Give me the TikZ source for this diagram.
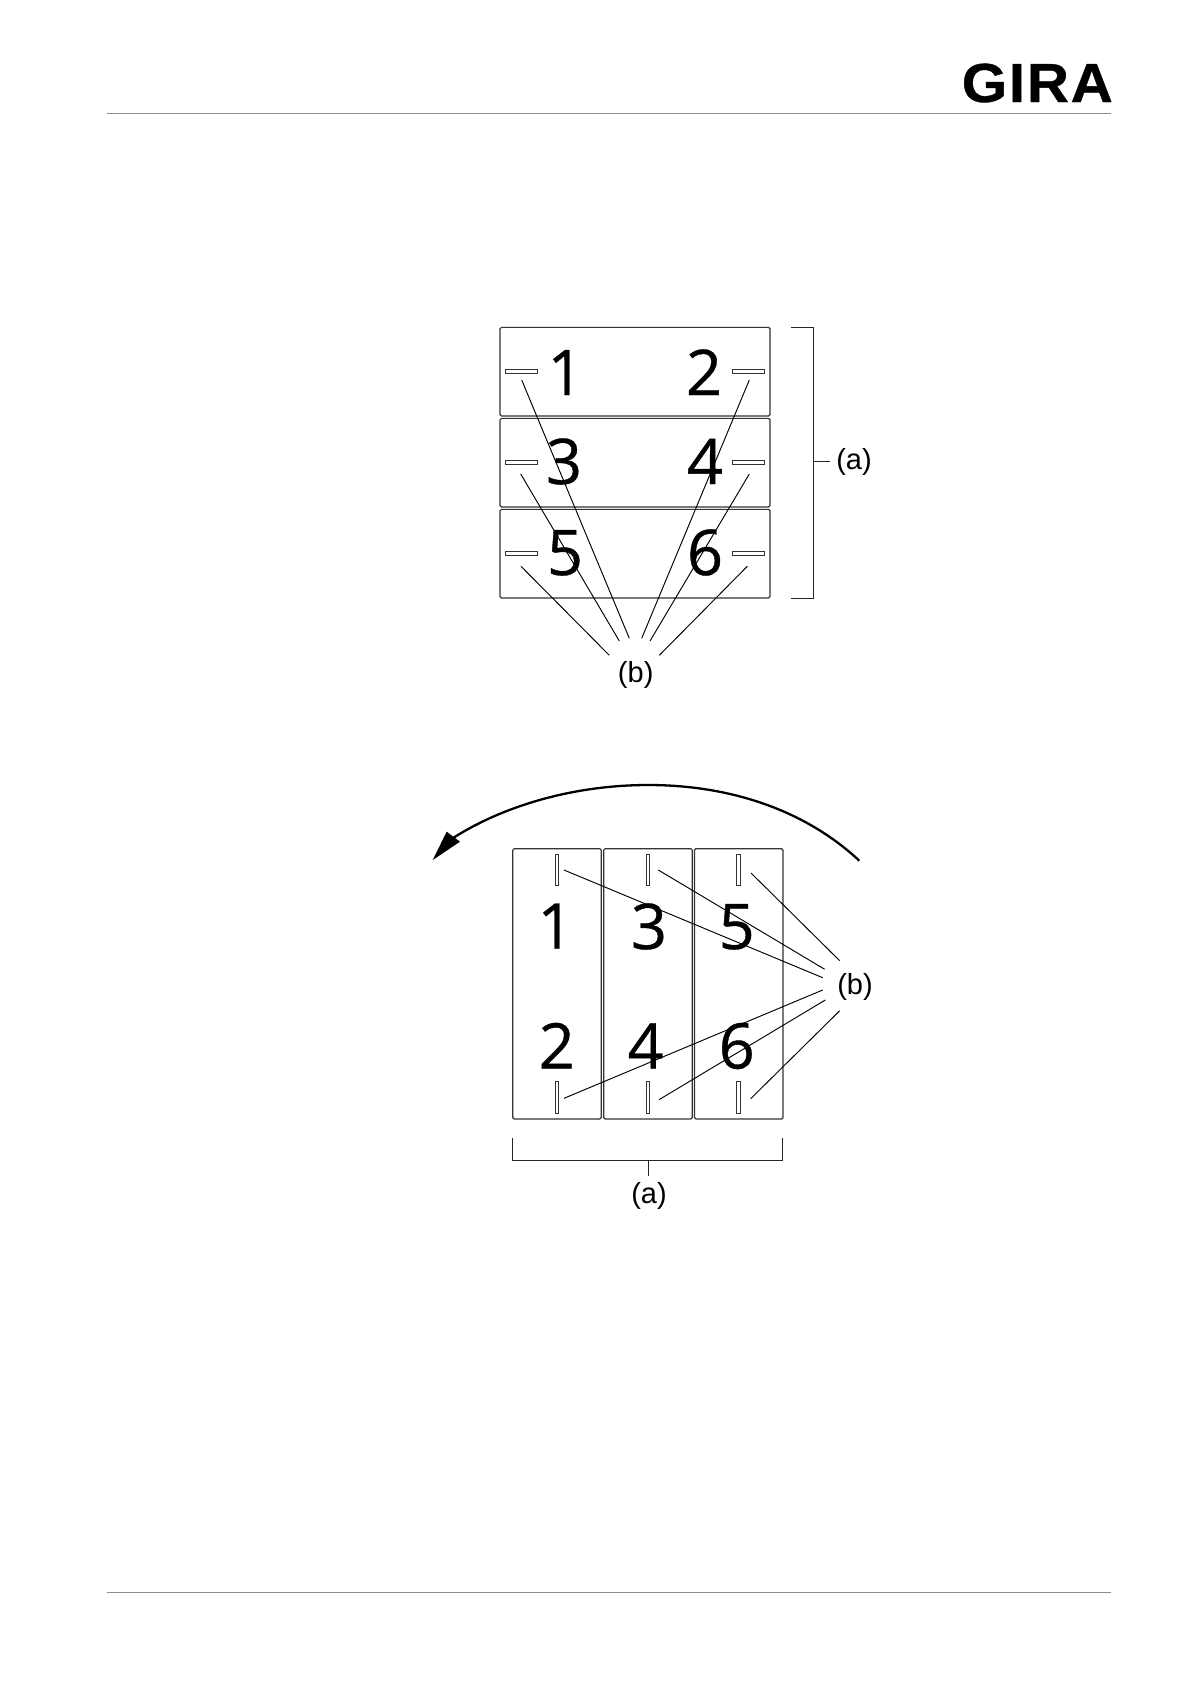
\documentclass[tikz,border=0pt]{standalone}
\usepackage{fontspec}
\setmainfont{Liberation Sans}
\newfontfamily\digitfont[FakeBold=0.6]{Open Sans}
\newfontfamily\logofont[LetterSpace=3,FakeBold=0.7]{Liberation Sans Bold}
\begin{document}
\begin{tikzpicture}[x=1pt,y=-1pt,
  panel/.style={draw=black!80,line width=1.2pt,rounded corners=1.5pt,inner sep=0pt,fill=white},
  hpanel/.style={panel,minimum width=270pt,minimum height=88.7pt},
  vpanel/.style={panel,minimum width=88.6pt,minimum height=270.3pt},
  hslot/.style={draw=black!80,line width=0.9pt,inner sep=0pt,minimum width=32pt,minimum height=3.8pt},
  vslot/.style={draw=black!80,line width=0.9pt,inner sep=0pt,minimum width=3.6pt,minimum height=31.4pt},
  digit/.style={anchor=base,inner sep=0pt,font=\digitfont\fontsize{63}{70}\selectfont},
  callout/.style={inner sep=0pt,font=\fontsize{29}{32}\selectfont},
  leader/.style={draw=black,line width=0.95pt},
  bracket/.style={draw=black!85,line width=1pt},
  rule/.style={draw=black!45,line width=0.9pt}]
\useasboundingbox (0,0) rectangle (1191,1684);
\fill[white] (0,0) rectangle (1191,1684);
% header and footer
\coordinate (hl) at (107.4,113.3); \coordinate (hr) at (1111,113.3);
\coordinate (fl) at (107.4,1592.8); \coordinate (fr) at (1111,1592.8);
\draw[rule] (hl) -- (hr);
\draw[rule] (fl) -- (fr);
\node[anchor=base east,inner sep=0pt] (logo) at (1113,102) {\scalebox{1.06}[1]{\logofont\fontsize{55}{60}\selectfont GIRA}};
% upper figure panels
\node[hpanel] (h1) at (635,371.7) {};
\node[hpanel] (h2) at (635,462.7) {};
\node[hpanel] (h3) at (635,553.7) {};
\node[hslot] (s1) at (521.3,371.5) {};
\node[hslot] (s2) at (748.7,371.5) {};
\node[hslot] (s3) at (521.3,462.5) {};
\node[hslot] (s4) at (748.7,462.5) {};
\node[hslot] (s5) at (521.3,553.5) {};
\node[hslot] (s6) at (748.7,553.5) {};
\node[digit] (d1) at (565.5,395) {1};
\node[digit] (d2) at (704,395) {2};
\node[digit] (d3) at (564,484) {3};
\node[digit] (d4) at (705,484) {4};
\node[digit] (d5) at (565,575) {5};
\node[digit] (d6) at (705,575) {6};
% upper bracket
\coordinate (bt) at (791,327.3); \coordinate (btc) at (813.3,327.3);
\coordinate (bb) at (791,598); \coordinate (bbc) at (813.3,598);
\coordinate (bm) at (813.3,461.7); \coordinate (bme) at (830,461.7);
\draw[bracket] (bt) -- (btc) -- (bbc) -- (bb);
\draw[bracket] (bm) -- (bme);
\node[callout] (a1) at (854,462) {(a)};
\node[callout] (b1) at (635.7,674.5) {(b)};
% upper leaders
\coordinate (u1a) at (521.7,380); \coordinate (u1b) at (629.3,638.3);
\coordinate (u2a) at (749.3,380); \coordinate (u2b) at (641.7,638.3);
\coordinate (u3a) at (520.7,474); \coordinate (u3b) at (619.3,641);
\coordinate (u4a) at (749.3,474); \coordinate (u4b) at (650,641);
\coordinate (u5a) at (521,566.3); \coordinate (u5b) at (609.3,655.3);
\coordinate (u6a) at (747.3,566.3); \coordinate (u6b) at (659.3,655.3);
\draw[leader] (u1a) -- (u1b);
\draw[leader] (u2a) -- (u2b);
\draw[leader] (u3a) -- (u3b);
\draw[leader] (u4a) -- (u4b);
\draw[leader] (u5a) -- (u5b);
\draw[leader] (u6a) -- (u6b);
% lower figure panels
\node[vpanel] (v1) at (557,983.8) {};
\node[vpanel] (v2) at (648,983.8) {};
\node[vpanel] (v3) at (738.7,983.8) {};
\node[vslot] (t1) at (556.8,870) {};
\node[vslot] (t2) at (556.8,1097.5) {};
\node[vslot] (t3) at (647.8,870) {};
\node[vslot] (t4) at (647.8,1097.5) {};
\node[vslot] (t5) at (738.7,870) {};
\node[vslot] (t6) at (738.7,1097.5) {};
\node[digit] (e1) at (555.5,948.5) {1};
\node[digit] (e3) at (649,949) {3};
\node[digit] (e5) at (736.7,949) {5};
\node[digit] (e2) at (556.7,1068.5) {2};
\node[digit] (e4) at (645.7,1068.5) {4};
\node[digit] (e6) at (736.7,1068.5) {6};
% lower bracket
\coordinate (ct) at (512,1138); \coordinate (ctc) at (512,1160.3);
\coordinate (cr) at (782.7,1138); \coordinate (crc) at (782.7,1160.3);
\coordinate (cm) at (648.3,1160.3); \coordinate (cme) at (648.3,1176.3);
\draw[bracket] (ct) -- (ctc) -- (crc) -- (cr);
\draw[bracket] (cm) -- (cme);
\node[callout] (a2) at (649,1195.5) {(a)};
\node[callout] (b2) at (855,986.5) {(b)};
% lower leaders
\coordinate (w1a) at (564,870); \coordinate (w1b) at (822.7,977.7);
\coordinate (w3a) at (658.3,870); \coordinate (w3b) at (824.7,969.3);
\coordinate (w5a) at (751,873); \coordinate (w5b) at (839.7,960.7);
\coordinate (w2a) at (564,1098.3); \coordinate (w2b) at (822.7,990);
\coordinate (w4a) at (659,1099.7); \coordinate (w4b) at (825.3,1000);
\coordinate (w6a) at (750.7,1098.7); \coordinate (w6b) at (839.7,1010.7);
\draw[leader] (w1a) -- (w1b);
\draw[leader] (w3a) -- (w3b);
\draw[leader] (w5a) -- (w5b);
\draw[leader] (w2a) -- (w2b);
\draw[leader] (w4a) -- (w4b);
\draw[leader] (w6a) -- (w6b);
% rotation arrow
\coordinate (ra) at (859.3,860.7); \coordinate (rt) at (648.3,785); \coordinate (rb) at (453,838);
\coordinate (rtip) at (432.7,860); \coordinate (rh1) at (446.7,831.7); \coordinate (rh2) at (460,841.7);
\draw[black,line width=2.3pt] (ra) .. controls (805,810) and (730,785) .. (rt) .. controls (575,785) and (505,805) .. (rb);
\fill[black] (rtip) -- (rh1) -- (rh2) -- cycle;
\end{tikzpicture}
\end{document}
